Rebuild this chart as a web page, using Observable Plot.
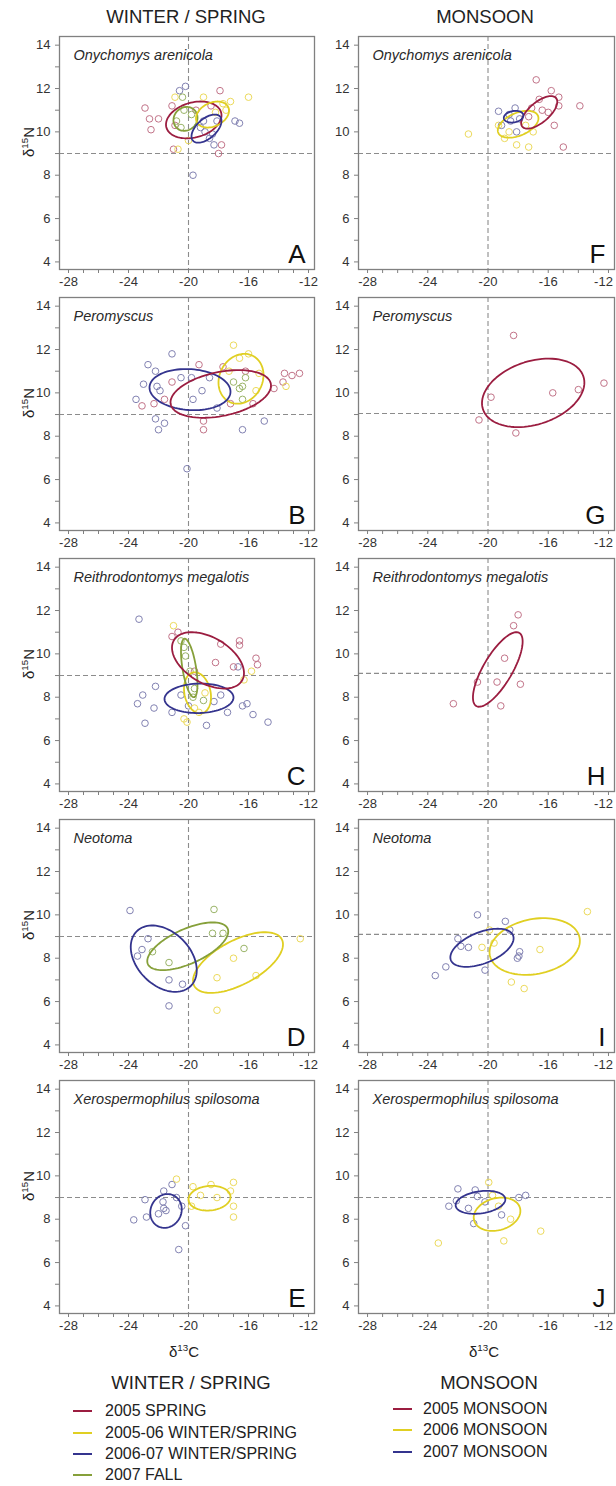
<!DOCTYPE html>
<html><head><meta charset="utf-8">
<script src="https://cdn.jsdelivr.net/npm/d3@7"></script>
<script src="https://cdn.jsdelivr.net/npm/@observablehq/plot@0.6"></script>
<style>
body{margin:0;background:#fff;font-family:"Liberation Sans",Arial,sans-serif;color:#222}
#root{position:relative;width:616px;height:1486px;overflow:hidden;background:#fff}
.abs{position:absolute;white-space:nowrap}
.ctr{transform:translate(-50%,-50%)}
.title{font-size:18.5px;color:#222}
.ylab{font-size:15px;color:#222;transform:translate(-50%,-50%) rotate(-90deg)}
.xlab{font-size:15px;color:#222}
sup{font-size:65%;vertical-align:0.55em;line-height:0}
.leg{font-size:16px;color:#222}
.sw{position:absolute;height:2px}
svg.plot{overflow:visible}
</style></head><body><div id="root"></div>
<script>
// ---------- data ----------
const columnTitles = ["WINTER / SPRING", "MONSOON"];
const species = ["Onychomys arenicola", "Peromyscus", "Reithrodontomys megalotis", "Neotoma", "Xerospermophilus spilosoma"];
const lettersWinter = ["A", "B", "C", "D", "E"];
const lettersMonsoon = ["F", "G", "H", "I", "J"];
const xTicks = [-28, -24, -20, -16, -12];
const yTicks = [4, 6, 8, 10, 12, 14];
const refX = -20;
const refYWinter = [9, 9, 9, 9, 9];
const refYMonsoon = [9, 9.05, 9.1, 9.1, 9.0];

const legendWinter = [["r", "2005 SPRING"], ["y", "2005-06 WINTER/SPRING"], ["b", "2006-07 WINTER/SPRING"], ["g", "2007 FALL"]];
const legendMonsoon = [["r", "2005 MONSOON"], ["y", "2006 MONSOON"], ["b", "2007 MONSOON"]];
const ellipseColor = {r: "#9b1d40", y: "#e0cf22", b: "#34348e", g: "#86a03a"};
const pointColor = {r: "#c27489", y: "#ecda5c", b: "#8282b2", g: "#9ab468"};

// points: [group, d13C, d15N]
const ptsA = [
  ["r",-22.9,11.1],["r",-22.6,10.6],["r",-22.0,10.6],["r",-22.5,10.1],["r",-21.0,9.2],["r",-21.1,11.2],["r",-20.9,10.3],["r",-17.8,9.4],["r",-18.0,9.0],["r",-19.5,11.0],["r",-18.5,11.2],["r",-17.9,11.9],
  ["b",-19.7,8.0],["b",-16.9,10.5],["b",-16.6,10.4],["b",-20.6,11.9],["b",-20.2,12.1],
  ["y",-16.0,11.6],["y",-20.7,9.2],["y",-17.7,11.3],["y",-17.5,11.0],["y",-18.2,10.9],["y",-20.9,11.6],["y",-19.0,11.6],["y",-17.2,11.4],["y",-20.0,9.6],
  ["g",-20.3,11.0],["g",-20.8,10.5],["g",-20.5,10.2],["g",-19.8,10.8],["g",-20.4,11.6],
  ["b",-19.2,10.2],["b",-18.6,9.7],["b",-18.3,9.4],["b",-18.9,10.0],["b",-18.1,10.5],["b",-19.0,10.5],["b",-18.4,9.9]
];
const ptsB = [
  ["b",-22.7,11.3],["b",-22.2,11.0],["b",-21.1,11.8],["b",-23.0,10.4],["b",-23.5,9.7],["b",-22.1,10.3],["b",-21.9,10.1],["b",-22.2,8.8],["b",-21.6,8.6],["b",-22.0,8.3],["b",-20.1,6.5],["b",-20.5,10.7],["b",-19.8,10.7],["b",-19.1,10.1],["b",-18.6,10.7],["b",-18.1,9.3],["b",-16.4,8.3],["b",-14.95,8.7],["b",-19.7,9.7],
  ["r",-23.1,9.4],["r",-22.3,9.5],["r",-21.1,10.5],["r",-19.3,11.3],["r",-19.0,8.7],["r",-19.0,8.3],["r",-17.7,11.2],["r",-15.7,9.5],["r",-13.7,10.5],["r",-12.6,10.9],["r",-16.2,11.0],["r",-14.3,10.2],["r",-13.1,10.8],["r",-13.6,10.9],["r",-17.2,9.5],["r",-21.6,9.7],
  ["y",-17.0,12.2],["y",-16.6,11.6],["y",-15.5,10.1],["y",-13.5,10.3],["y",-16.0,11.8],["y",-15.3,10.9],["y",-17.3,11.0],
  ["g",-16.4,9.7],["g",-17.0,10.5],["g",-16.6,10.2],["g",-16.4,10.3],["g",-16.2,10.7]
];
const ptsC = [
  ["b",-23.3,11.6],["b",-22.2,8.5],["b",-23.05,8.1],["b",-23.4,7.7],["b",-22.3,7.5],["b",-22.9,6.8],["b",-16.4,7.6],["b",-16.1,7.7],["b",-15.7,7.2],["b",-14.7,6.85],["b",-18.8,6.7],["b",-18.3,7.8],["b",-20.5,8.1],["b",-21.1,7.3],["b",-17.4,7.3],["b",-17.85,8.1],["b",-16.7,9.4],["b",-20.0,7.6],
  ["r",-20.7,11.0],["r",-21.1,10.8],["r",-17.85,10.45],["r",-16.6,10.6],["r",-16.6,10.4],["r",-15.5,9.8],["r",-15.4,9.5],["r",-18.2,9.6],["r",-17.0,9.4],["r",-19.6,9.2],
  ["y",-21.0,11.3],["y",-20.1,6.85],["y",-19.3,7.3],["y",-19.6,7.5],["y",-18.9,8.2],["y",-20.3,7.0],["y",-16.3,8.8],["y",-15.8,9.2],
  ["g",-20.5,10.6],["g",-20.2,9.9],["g",-19.9,9.2],["g",-19.6,8.4],["g",-19.0,7.85],["g",-19.7,8.0],["g",-20.3,10.3]
];
const ptsD = [
  ["b",-23.9,10.2],["b",-22.7,8.9],["b",-23.1,8.4],["b",-23.4,8.1],["b",-21.3,7.0],["b",-20.4,6.8],["b",-21.3,5.8],
  ["g",-18.3,10.25],["g",-22.4,8.3],["g",-21.3,7.8],["g",-18.4,9.15],["g",-17.7,9.15],["g",-16.3,8.45],
  ["y",-18.1,7.1],["y",-18.1,5.6],["y",-12.55,8.9],["y",-15.5,7.2],["y",-17.0,8.0]
];
const ptsE = [
  ["b",-23.65,7.97],["b",-22.8,8.1],["b",-22.9,8.9],["b",-22.0,8.25],["b",-21.65,9.3],["b",-21.7,8.8],["b",-21.65,8.5],["b",-21.1,9.6],["b",-20.45,8.6],["b",-20.2,7.7],["b",-20.65,6.6],["b",-20.8,9.0],["b",-21.5,8.4],
  ["y",-20.8,9.85],["y",-19.7,9.5],["y",-19.2,9.1],["y",-18.1,9.0],["y",-17.2,9.3],["y",-17.0,8.6],["y",-17.0,9.7],["y",-19.8,8.6],["y",-18.5,9.6],["y",-17.0,8.1]
];
const ptsF = [
  ["r",-16.8,12.4],["r",-15.8,11.9],["r",-15.3,11.6],["r",-15.3,11.2],["r",-13.9,11.2],["r",-15.6,10.3],["r",-15.0,9.3],["r",-17.1,11.1],["r",-16.4,11.0],["r",-16.6,11.5],["r",-17.3,10.7],["r",-16.0,10.9],
  ["y",-17.3,9.3],["y",-18.1,9.4],["y",-19.3,10.3],["y",-18.6,10.0],["y",-17.5,10.3],["y",-21.3,9.9],["y",-18.9,9.7],["y",-17.0,10.0],
  ["b",-19.3,10.95],["b",-19.1,10.3],["b",-18.1,10.0],["b",-18.6,10.8],["b",-18.2,11.1],["b",-17.9,10.6],["b",-18.5,10.5]
];
const ptsG = [
  ["r",-18.3,12.65],["r",-19.8,9.8],["r",-20.6,8.75],["r",-18.15,8.15],["r",-15.7,10.0],["r",-14.0,10.15],["r",-12.3,10.45]
];
const ptsH = [
  ["r",-18.0,11.8],["r",-18.3,11.3],["r",-18.9,9.8],["r",-19.4,8.7],["r",-20.7,8.7],["r",-17.85,8.6],["r",-19.15,7.6],["r",-22.3,7.7]
];
const ptsI = [
  ["b",-20.7,10.0],["b",-18.85,9.7],["b",-18.55,9.3],["b",-22.0,8.9],["b",-21.8,8.55],["b",-21.3,8.5],["b",-22.8,7.6],["b",-23.5,7.2],["b",-20.2,7.45],["b",-17.9,8.3],["b",-17.95,8.1],["b",-18.05,8.0],
  ["y",-16.55,8.4],["y",-13.4,10.15],["y",-20.4,8.5],["y",-19.9,9.3],["y",-18.45,6.9],["y",-17.6,6.6],["y",-19.6,8.7]
];
const ptsJ = [
  ["b",-22.0,9.4],["b",-22.6,8.6],["b",-22.1,8.85],["b",-20.85,9.35],["b",-20.7,9.05],["b",-20.2,8.8],["b",-20.95,7.8],["b",-19.1,8.2],["b",-17.95,9.0],["b",-17.5,9.1],["b",-21.3,8.5],
  ["y",-23.3,6.9],["y",-18.95,7.0],["y",-16.5,7.45],["y",-19.7,9.1],["y",-19.95,9.7],["y",-19.3,8.6],["y",-18.5,8.0]
];

// standard ellipses: [group, mean d13C, mean d15N, sd d13C, sd d15N, correlation]
const ellA = [["r",-19.65,10.55,1.85,0.85,0.25],["g",-20.2,10.6,0.8,0.55,0.1],["y",-18.4,10.8,1.1,0.6,0.3],["b",-18.8,10.15,1.0,0.65,0.55]];
const ellB = [["y",-16.5,10.65,1.5,1.15,0.15],["b",-19.9,10.15,2.7,0.95,-0.1],["r",-17.85,9.95,3.35,1.1,0.35]];
const ellC = [["y",-19.4,8.2,0.9,0.95,-0.2],["g",-19.95,9.35,0.55,1.35,-0.55],["b",-19.3,7.95,2.3,0.68,0.05],["r",-18.7,9.7,2.4,1.3,-0.45]];
const ellD = [["y",-16.7,7.8,3.0,1.4,0.6],["g",-20.05,8.55,2.7,1.1,0.62],["b",-21.65,7.98,2.2,1.53,-0.35]];
const ellE = [["y",-18.6,8.97,1.4,0.57,0.1],["b",-21.5,8.38,1.05,0.78,0.1]];
const ellF = [["y",-18.0,10.35,1.35,0.62,0.45],["r",-16.6,10.9,1.2,0.75,0.65],["b",-18.3,10.7,0.65,0.27,0.2]];
const ellG = [["r",-17.0,10.0,3.4,1.58,0.3]];
const ellH = [["r",-19.35,9.28,1.65,1.72,0.75]];
const ellI = [["y",-16.9,8.54,3.0,1.31,0.2],["b",-20.4,8.48,2.1,0.88,0.5]];
const ellJ = [["y",-19.4,8.23,1.55,0.77,0.2],["b",-20.5,8.78,1.65,0.53,0.25]];

const pointsWinter = [ptsA, ptsB, ptsC, ptsD, ptsE];
const pointsMonsoon = [ptsF, ptsG, ptsH, ptsI, ptsJ];
const ellWinter = [ellA, ellB, ellC, ellD, ellE];
const ellMonsoon = [ellF, ellG, ellH, ellI, ellJ];

// ---------- layout ----------
const xDomain = [-28.6, -11.6];
const yDomain = [3.65, 14.4];
const root = document.getElementById("root");
const rowTop = 30, rowStep = 261;
const fontFam = "Liberation Sans, Arial, sans-serif";

function ellipseOutline(list) {
  const out = [];
  list.forEach((e, k) => {
    const [g, mx, my, sx, sy, rho] = e;
    const s = Math.sqrt(1 - rho * rho);
    for (let i = 0; i <= 90; i++) {
      const t = i / 90 * 2 * Math.PI;
      out.push({id: k, g, x: mx + sx * Math.cos(t), y: my + sy * (rho * Math.cos(t) + s * Math.sin(t))});
    }
  });
  return out;
}

const xAll = d3.range(-28, -11);
const yAll = d3.range(4, 15);

function panel(col, row) {
  const pts = (col === 0 ? pointsWinter : pointsMonsoon)[row];
  const ell = (col === 0 ? ellWinter : ellMonsoon)[row];
  const refY = (col === 0 ? refYWinter : refYMonsoon)[row];
  const letter = (col === 0 ? lettersWinter : lettersMonsoon)[row];
  const ml = col === 0 ? 59 : 42;
  const w = col === 0 ? 316 : 300;
  // the last label of the right column is pulled inwards so it stays inside the page
  const edgeTick = xTicks[xTicks.length - 1];
  const labelled = col === 0 ? xTicks : xTicks.slice(0, -1);
  const chart = Plot.plot({
    width: w, height: 261,
    marginLeft: ml, marginRight: 2, marginTop: 6, marginBottom: 22,
    x: {domain: xDomain},
    y: {domain: yDomain},
    color: {type: "identity"},
    style: {fontFamily: fontFam, fontSize: "13px", color: "#333", background: "none", overflow: "visible"},
    marks: [
      Plot.ruleX([refX], {stroke: "#8c8c8c", strokeDasharray: "5,3", strokeWidth: 1.1}),
      Plot.ruleY([refY], {stroke: "#8c8c8c", strokeDasharray: "5,3", strokeWidth: 1.1}),
      Plot.dot(pts, {x: d => d[1], y: d => d[2], r: 3.3, stroke: d => pointColor[d[0]], strokeWidth: 1, fill: "none"}),
      Plot.line(ellipseOutline(ell), {x: "x", y: "y", z: "id", stroke: d => ellipseColor[d.g], strokeWidth: 1.8, curve: "linear"}),
      Plot.frame({stroke: "#808080", strokeWidth: 1.3}),
      Plot.axisX({ticks: xAll, tickSize: 4, tickPadding: 3, stroke: "#808080", fill: "#333",
        tickFormat: d => labelled.includes(d) ? String(d) : "", label: null}),
      col === 0 ? null : Plot.text([edgeTick], {x: d => d, frameAnchor: "bottom", lineAnchor: "top", dy: 7, dx: -5,
        text: d => String(d), fill: "#333"}),
      Plot.axisY({ticks: yAll, tickSize: 4, tickPadding: 5, stroke: "#808080", fill: "#333",
        tickFormat: d => yTicks.includes(d) ? String(d) : "", label: null}),
      Plot.text([species[row]], {frameAnchor: "top-left", textAnchor: "start", lineAnchor: "top", dx: 14, dy: 13,
        fontStyle: "italic", fontSize: 14.5, fill: "#2a2a2a"}),
      Plot.text([letter], {frameAnchor: "bottom-right", textAnchor: "end", lineAnchor: "bottom", dx: -9, dy: -7,
        fontSize: 26, fill: "#111"})
    ]
  });
  chart.style.position = "absolute";
  chart.style.left = (col === 0 ? 0 : 316) + "px";
  chart.style.top = (rowTop + row * rowStep) + "px";
  root.appendChild(chart);
}

for (let r = 0; r < 5; r++) { panel(0, r); panel(1, r); }

function addDiv(cls, html, x, y, extra) {
  const d = document.createElement("div");
  d.className = "abs " + cls;
  d.innerHTML = html;
  d.style.left = x + "px";
  d.style.top = y + "px";
  if (extra) Object.assign(d.style, extra);
  root.appendChild(d);
  return d;
}

// column titles
addDiv("title ctr", columnTitles[0], 186, 17);
addDiv("title ctr", columnTitles[1], 485, 17);

// y-axis labels (left column)
for (let r = 0; r < 5; r++) {
  const frameTop = rowTop + r * rowStep + 6;
  addDiv("ylab", "δ<sup>15</sup>N", 28, frameTop + 116 - 10);
}
// x-axis labels (bottom row)
addDiv("xlab ctr", "δ<sup>13</sup>C", 184, 1351);
addDiv("xlab ctr", "δ<sup>13</sup>C", 484, 1351);

// legends
function legend(title, items, cx, swX, txtX, ys) {
  addDiv("title ctr", title, cx, 1383);
  items.forEach(([g, label], i) => {
    const sw = document.createElement("div");
    sw.className = "sw";
    sw.style.left = swX + "px";
    sw.style.width = "19px";
    sw.style.top = (ys[i] - 1) + "px";
    sw.style.background = ellipseColor[g];
    root.appendChild(sw);
    addDiv("leg", label, txtX, ys[i], {transform: "translateY(-50%)"});
  });
}
legend(columnTitles[0], legendWinter, 191, 73, 105, [1411, 1433, 1454, 1475]);
legend(columnTitles[1], legendMonsoon, 489, 393, 423, [1409, 1430, 1452]);
</script></body></html>
